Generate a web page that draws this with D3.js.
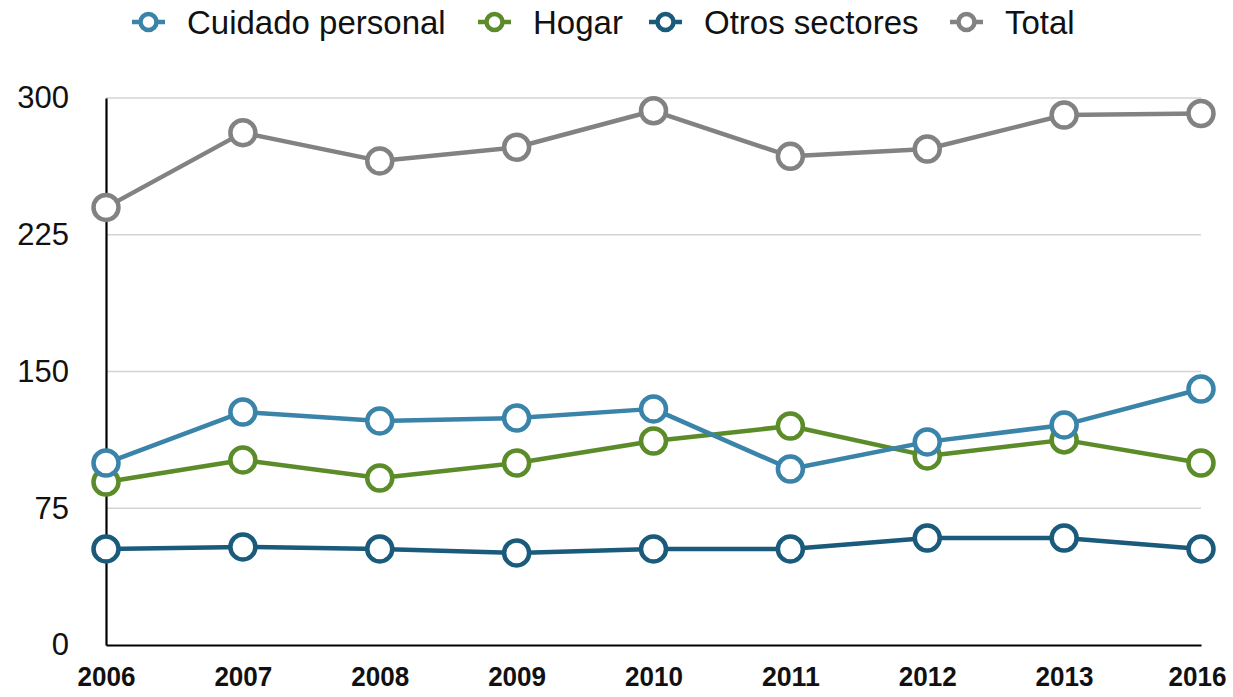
<!DOCTYPE html>
<html><head><meta charset="utf-8">
<script src="https://cdn.jsdelivr.net/npm/d3@7"></script>
<style>html,body{margin:0;padding:0;background:#fff;}svg{display:block;}</style>
</head><body>
<svg id="c" width="1233" height="697"></svg>
<script>
const years = ["2006","2007","2008","2009","2010","2011","2012","2013","2016"];
const total   = [240, 281, 265.5, 273, 293, 268, 272, 290.7, 291.5];
const otros   = [52.7, 53.8, 52.7, 50.5, 52.7, 52.7, 58.7, 58.7, 52.7];
const hogar   = [89.4, 101.5, 91.6, 99.8, 111.9, 120.1, 103.7, 112.5, 99.8];
const cuidado = [99.8, 127.8, 122.9, 124.5, 129.5, 96.5, 111.4, 120.7, 140.4];
const yTicks = [0, 75, 150, 225, 300];
const seriesNames = ["Cuidado personal", "Hogar", "Otros sectores", "Total"];
const colors = {"Cuidado personal":"#3a83a9","Hogar":"#5b8c29","Otros sectores":"#1a5a7b","Total":"#828282"};
const series = [
  {name:"Total", values: total},
  {name:"Otros sectores", values: otros},
  {name:"Hogar", values: hogar},
  {name:"Cuidado personal", values: cuidado}
];

const svg = d3.select("#c");
const m = {l:106, r:1201, t:98, b:645};
const x = d3.scalePoint().domain(years).range([m.l, m.r]);
const y = d3.scaleLinear().domain([0,300]).range([m.b, m.t]);

// grid
svg.append("g").selectAll("line").data(yTicks.filter(d=>d>0)).join("line")
  .attr("x1", m.l).attr("x2", m.r).attr("y1", d=>y(d)).attr("y2", d=>y(d))
  .attr("stroke", "#d3d3d3").attr("stroke-width", 1.3);

// y axis
const ya = svg.append("g").attr("transform", `translate(${m.l},0)`)
  .call(d3.axisLeft(y).tickValues(yTicks).tickSize(0).tickPadding(37));
ya.select(".domain").attr("stroke","#000").attr("stroke-width",2.2);
ya.selectAll("text").attr("font-family","'Helvetica Neue', 'Liberation Sans', Arial, sans-serif")
  .attr("font-size", 31).attr("fill","#111").attr("font-weight",300);

// x axis
const xa = svg.append("g").attr("transform", `translate(0,${m.b})`)
  .call(d3.axisBottom(x).tickSize(0).tickPadding(21));
xa.select(".domain").attr("stroke","#000").attr("stroke-width",2.2);
xa.selectAll("text").attr("font-family","'Liberation Sans', Arial, sans-serif")
  .attr("font-size", 28).attr("font-weight","bold").attr("fill","#111")
  .attr("textLength", 58).attr("lengthAdjust","spacingAndGlyphs")
  .attr("dx", (d,i,n)=> i === n.length-1 ? -4 : 0);

// lines
const line = d3.line().x((d,i)=>x(years[i])).y(d=>y(d));
series.forEach(s=>{
  const g = svg.append("g");
  g.append("path").datum(s.values).attr("d", line).attr("fill","none")
    .attr("stroke", colors[s.name]).attr("stroke-width", 4.5).attr("stroke-linejoin","round");
  g.selectAll("circle").data(s.values).join("circle")
    .attr("cx",(d,i)=>x(years[i])).attr("cy", d=>y(d)).attr("r", 12.5)
    .attr("fill","#fff").attr("stroke", colors[s.name]).attr("stroke-width", 4.5);
});

// legend
const legendX = [132, 478, 649, 950];
const lg = svg.append("g");
seriesNames.forEach((n,i)=>{
  const gx = legendX[i];
  const g = lg.append("g").attr("transform", `translate(${gx},22)`);
  g.append("line").attr("x1",0).attr("x2",33).attr("y1",0).attr("y2",0)
    .attr("stroke", colors[n]).attr("stroke-width",4.5);
  g.append("circle").attr("cx",16.5).attr("cy",0).attr("r",8)
    .attr("fill","#fff").attr("stroke",colors[n]).attr("stroke-width",4.5);
  g.append("text").attr("x",55).attr("y",0).attr("dy","0.36em").text(n)
    .attr("font-family","'Helvetica Neue', 'Liberation Sans', Arial, sans-serif")
    .attr("font-size",33).attr("fill","#111").attr("font-weight",300);
});
</script>
</body></html>
